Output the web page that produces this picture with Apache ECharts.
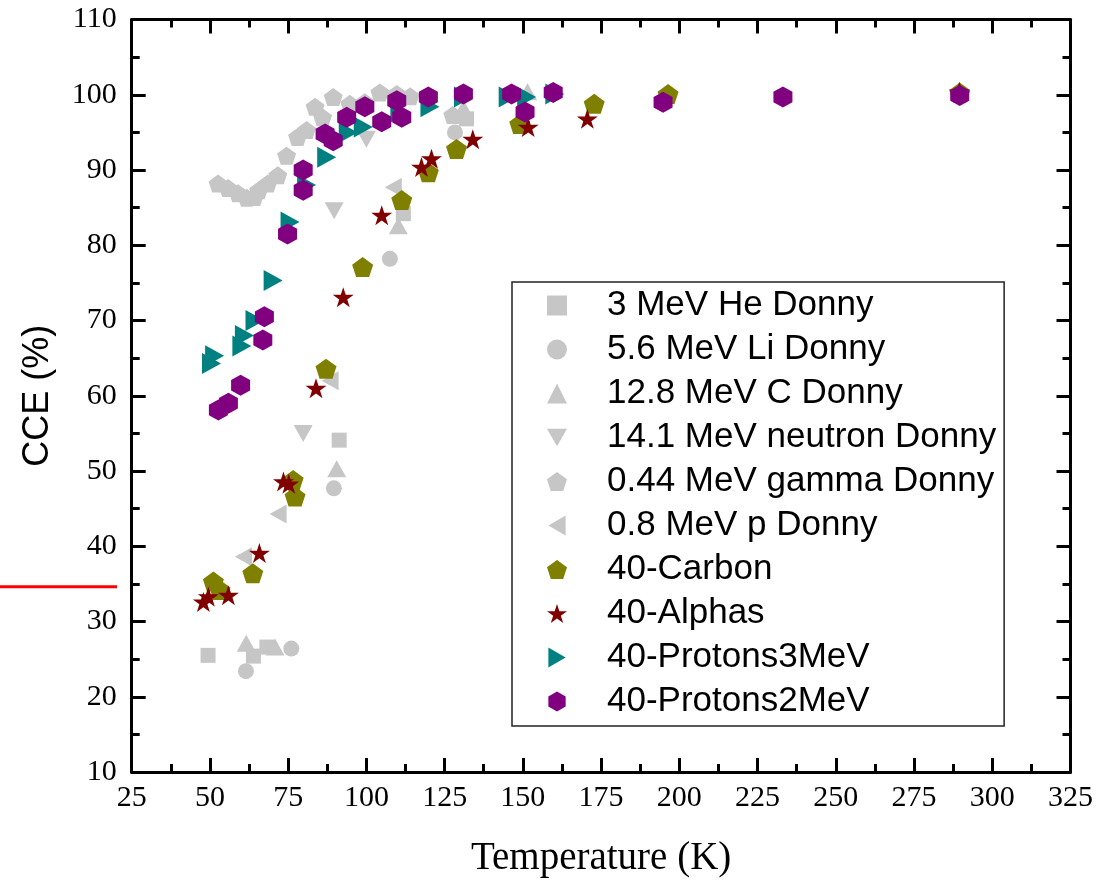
<!DOCTYPE html>
<html>
<head>
<meta charset="utf-8">
<title>CCE vs Temperature</title>
<script src="https://cdn.jsdelivr.net/npm/echarts@6/dist/echarts.min.js"></script>
<style>
  html, body { margin: 0; padding: 0; background: #fff; }
  #my_chart { width: 1107px; height: 884px; }
</style>
</head>
<body>
<div id="my_chart"></div>
<script>
  // [Temperature (K), CCE (%)]
  var heDonny = [[49.4, 25.5], [63.9, 25.4], [68.2, 26.6], [91.3, 54.1], [111.8, 84.2], [132, 96.8]];
  var liDonny = [[61.5, 23.4], [76, 26.4], [89.6, 47.7], [107.5, 78.2], [128.3, 95.0]];
  var cDonny = [[61.6, 27.1], [70.8, 26.6], [90.5, 50.3], [110.2, 82.6], [131, 98.2], [151.5, 100.4]];
  var neutronDonny = [[79.8, 55.0], [89.7, 84.6], [100, 94.1]];
  var gammaDonny = [[52.6, 88.2], [55.8, 87.6], [59, 86.9], [61.8, 86.3], [64.2, 86.4], [65.6, 87.3],
    [68.5, 88.2], [71.7, 89.3], [74.5, 91.9], [78, 94.4], [80.9, 95.3], [83.6, 98.4], [86, 97.0],
    [89.4, 99.7], [94.7, 98.8], [99.5, 99.0], [104.3, 100.3], [109.7, 100.1], [114, 99.8], [127.6, 97.3]];
  var pDonny = [[60.7, 38.6], [71.8, 44.3], [88.4, 62.0], [108.6, 87.7]];
  var carbon = [[51.1, 35.3], [53.2, 34.2], [63.7, 36.4], [76.6, 48.8], [77.2, 46.6], [87.1, 63.6],
    [98.8, 77.1], [111.3, 86.0], [119.8, 89.7], [128.8, 92.8], [149, 96.1], [172.8, 98.8],
    [196.4, 100.1], [289.6, 100.3]];
  var alphas = [[47.9, 32.6], [49.5, 33.3], [55.9, 33.5], [65.8, 39.1], [73.5, 48.6], [75.2, 48.3],
    [83.9, 61.0], [92.6, 73.1], [104.9, 84.0], [117.6, 90.4], [120.8, 91.5], [134, 94.1],
    [151.7, 95.7], [170.6, 96.8], [289.5, 100.4]];
  var protons3 = [[50.5, 64.3], [51.5, 65.3], [60.2, 66.6], [61.0, 68.0], [64.4, 70.0], [70.2, 75.3],
    [75.6, 83.1], [80.9, 88.0], [87.3, 91.7], [94.2, 95.0], [99, 95.7], [110.7, 97.7], [120.3, 98.4],
    [131, 99.7], [145.3, 99.7], [151.2, 99.7], [160.2, 100.1]];
  var protons2 = [[52.7, 58.1], [55.9, 59.0], [59.8, 61.4], [66.9, 67.4], [67.4, 70.5], [74.8, 81.5],
    [79.8, 87.3], [79.8, 90.0], [86.8, 94.8], [89.4, 93.9], [93.7, 97.0], [99.5, 98.4], [104.9, 96.4],
    [109.7, 99.2], [111.3, 97.0], [119.8, 99.7], [131, 100.1], [146.4, 100.1], [150.7, 97.7],
    [159.7, 100.3], [194.8, 99.0], [233.1, 99.7], [289.6, 99.9]];

  var seriesNames = ['3 MeV He Donny', '5.6 MeV Li Donny', '12.8 MeV C Donny', '14.1 MeV neutron Donny',
    '0.44 MeV gamma Donny', '0.8 MeV p Donny', '40-Carbon', '40-Alphas', '40-Protons3MeV', '40-Protons2MeV'];

  var xMin = 25, xMax = 325, xStep = 25;
  var yMin = 10, yMax = 110, yStep = 10;

  // marker shapes
  var downTri = 'path://M0,0 L2,0 L1,1.73 Z';
  var rightTri = 'path://M0,0 L1.73,1 L0,2 Z';
  var leftTri = 'path://M1.73,0 L0,1 L1.73,2 Z';
  var pentagon = 'path://M0.951,0 L1.902,0.691 L1.539,1.809 L0.363,1.809 L0,0.691 Z';
  var hexagon = 'path://M0.866,0 L1.732,0.5 L1.732,1.5 L0.866,2 L0,1.5 L0,0.5 Z';
  var star = 'path://M0.951,0 L1.1755,0.691 L1.902,0.691 L1.3143,1.118 L1.539,1.809 L0.951,1.382 ' +
    'L0.363,1.809 L0.5877,1.118 L0,0.691 L0.7265,0.691 Z';

  var gray = '#c6c6c6';
  var serif = 'Liberation Serif';
  var sans = 'Liberation Sans';

  function scat(name, data, symbol, size, color) {
    return {
      name: name,
      type: 'scatter',
      data: data,
      symbol: symbol,
      symbolSize: size,
      itemStyle: { color: color, opacity: 1 },
      emphasis: { disabled: true }
    };
  }

  function valueAxis(pos, min, max, step, showLabel) {
    return {
      type: 'value',
      position: pos,
      min: min,
      max: max,
      interval: step,
      axisLine: { show: true, onZero: false, lineStyle: { color: '#000', width: 3 } },
      axisTick: { show: true, inside: true, length: 14, lineStyle: { color: '#000', width: 3 } },
      minorTick: { show: true, splitNumber: 2, length: 8, lineStyle: { color: '#000', width: 3 } },
      splitLine: { show: false },
      minorSplitLine: { show: false },
      axisLabel: { show: showLabel, color: '#000', fontFamily: serif, fontSize: 30 }
    };
  }

  var xBottom = valueAxis('bottom', xMin, xMax, xStep, true);
  xBottom.axisLabel.margin = 11;
  xBottom.name = 'Temperature (K)';
  xBottom.nameLocation = 'middle';
  xBottom.nameGap = 67;
  xBottom.nameTextStyle = { color: '#000', fontFamily: serif, fontSize: 39 };

  var yLeft = valueAxis('left', yMin, yMax, yStep, true);
  yLeft.axisLabel.margin = 15;
  yLeft.name = 'CCE (%)';
  yLeft.nameLocation = 'middle';
  yLeft.nameGap = 76;
  yLeft.nameTextStyle = { color: '#000', fontFamily: sans, fontSize: 36 };

  var my_chart = echarts.init(document.getElementById('my_chart'), null, { renderer: 'canvas' });

  my_chart.setOption({
    animation: false,
    backgroundColor: '#fff',
    grid: { left: 131.7, right: 36.5, top: 19.5, bottom: 112, containLabel: false },
    xAxis: [xBottom, valueAxis('top', xMin, xMax, xStep, false)],
    yAxis: [yLeft, valueAxis('right', yMin, yMax, yStep, false)],
    legend: {
      orient: 'vertical',
      left: 512,
      top: 282,
      data: seriesNames,
      selectedMode: false,
      itemWidth: 20,
      itemHeight: 20,
      itemGap: 9,
      padding: [6, 8, 7, 35],
      borderColor: '#222',
      borderWidth: 1.5,
      backgroundColor: '#fff',
      textStyle: { color: '#000', fontFamily: sans, fontSize: 35, lineHeight: 35, padding: [0, 0, 0, 35] }
    },
    graphic: [{
      type: 'line',
      shape: { x1: 0, y1: 586.7, x2: 117, y2: 586.7 },
      style: { stroke: '#ff0000', lineWidth: 3 }
    }],
    series: [
      scat(seriesNames[0], heDonny, 'rect', 15, gray),
      scat(seriesNames[1], liDonny, 'circle', 16, gray),
      scat(seriesNames[2], cDonny, 'triangle', [19, 17], gray),
      scat(seriesNames[3], neutronDonny, downTri, [19, 17], gray),
      scat(seriesNames[4], gammaDonny, pentagon, [19, 18], gray),
      scat(seriesNames[5], pDonny, leftTri, [17, 19], gray),
      scat(seriesNames[6], carbon, pentagon, [21, 20], '#808000'),
      scat(seriesNames[7], alphas, star, [21, 20], '#800000'),
      scat(seriesNames[8], protons3, rightTri, [19, 21], '#008080'),
      scat(seriesNames[9], protons2, hexagon, [19, 21], '#800080')
    ]
  });
</script>
</body>
</html>
